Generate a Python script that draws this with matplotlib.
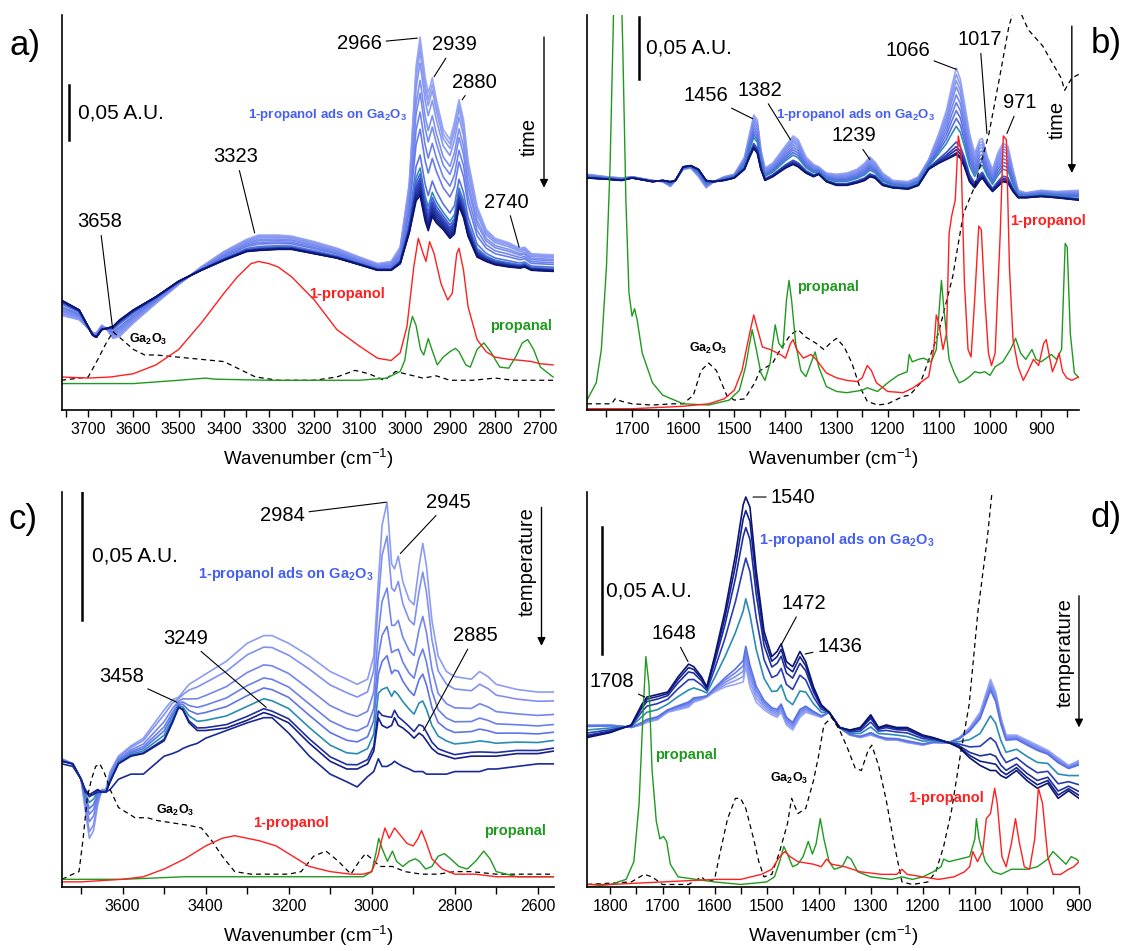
import numpy as np
import matplotlib.pyplot as plt

plt.rcParams['font.family'] = ['Liberation Sans', 'DejaVu Sans']
plt.rcParams['mathtext.fontset'] = 'custom'
plt.rcParams['mathtext.rm'] = 'Liberation Sans'
plt.rcParams['mathtext.it'] = 'Liberation Sans:italic'
plt.rcParams['mathtext.bf'] = 'Liberation Sans:bold'

# ---------------- panel a: 1-propanol on Ga2O3, OH/CH region, time series ----------------
a_wn = [3760, 3720, 3690, 3682, 3670, 3660, 3645, 3630, 3600, 3550, 3500, 3450, 3400, 3350, 3323,
        3280, 3250, 3200, 3150, 3100, 3060, 3030, 3010, 2990, 2975, 2966, 2955, 2948, 2939, 2930,
        2915, 2900, 2890, 2880, 2870, 2860, 2840, 2820, 2800, 2770, 2745, 2735, 2720, 2672]
a_first = [0.086, 0.082, 0.070, 0.070, 0.077, 0.074, 0.065, 0.067, 0.079, 0.097, 0.114, 0.130, 0.144, 0.155, 0.159,
           0.159, 0.158, 0.153, 0.147, 0.139, 0.133, 0.135, 0.148, 0.206, 0.312, 0.339, 0.303, 0.288, 0.302, 0.282,
           0.255, 0.246, 0.262, 0.282, 0.264, 0.227, 0.185, 0.164, 0.156, 0.152, 0.147, 0.148, 0.142, 0.141]
a_last = [0.100, 0.091, 0.068, 0.066, 0.073, 0.074, 0.076, 0.082, 0.091, 0.103, 0.117, 0.127, 0.136, 0.144, 0.145,
          0.146, 0.146, 0.142, 0.138, 0.132, 0.127, 0.127, 0.133, 0.161, 0.190, 0.195, 0.172, 0.163, 0.176, 0.170,
          0.164, 0.156, 0.160, 0.185, 0.175, 0.158, 0.139, 0.135, 0.132, 0.130, 0.129, 0.130, 0.127, 0.126]
a_weights = [1.0, 0.955, 0.909, 0.836, 0.727, 0.645, 0.527, 0.418, 0.255, 0.173, 0.136, 0.109,
             0.091, 0.073, 0.055, 0.036, 0.018, 0.0]
a_colors = ['#9aa8f4', '#93a2f3', '#8c9cf2', '#8596f1', '#7e90f0', '#778aef', '#6f83ed', '#667bea', '#5b71e6',
            '#2f8cb8', '#4a60dc', '#3d52cf', '#3346c0', '#2a3bb0', '#2232a0', '#1a2890', '#131f82', '#0c1472']

a_red_wn = [3760, 3700, 3650, 3600, 3550, 3500, 3450, 3400, 3370, 3340, 3323, 3300, 3280, 3250, 3200, 3150,
            3100, 3060, 3030, 3010, 2995, 2980, 2970, 2960, 2953, 2945, 2935, 2920, 2905, 2895, 2885, 2880,
            2870, 2860, 2840, 2820, 2800, 2770, 2740, 2720, 2700, 2672]
a_red = [0.030, 0.029, 0.030, 0.033, 0.041, 0.055, 0.079, 0.106, 0.121, 0.133, 0.135, 0.133, 0.130, 0.121, 0.100, 0.073,
         0.058, 0.047, 0.045, 0.052, 0.076, 0.130, 0.156, 0.143, 0.135, 0.153, 0.142, 0.115, 0.100, 0.106, 0.142, 0.147,
         0.127, 0.094, 0.064, 0.053, 0.048, 0.046, 0.045, 0.044, 0.042, 0.041]
a_green_wn = [3760, 3600, 3500, 3440, 3420, 3300, 3100, 3040, 3010, 3000, 2990, 2983, 2975, 2965, 2958, 2948, 2940,
              2928, 2915, 2900, 2888, 2880, 2865, 2855, 2840, 2825, 2810, 2790, 2770, 2755, 2740, 2728, 2715, 2700, 2672]
a_green = [0.024, 0.024, 0.027, 0.029, 0.028, 0.027, 0.027, 0.029, 0.035, 0.045, 0.073, 0.085, 0.077, 0.055, 0.050, 0.065,
           0.055, 0.041, 0.048, 0.053, 0.056, 0.053, 0.041, 0.039, 0.055, 0.061, 0.053, 0.039, 0.038, 0.048, 0.061, 0.064,
           0.055, 0.039, 0.030]
a_ga_wn = [3760, 3720, 3700, 3680, 3660, 3645, 3625, 3600, 3575, 3550, 3500, 3450, 3400, 3370, 3330, 3280, 3200, 3150,
           3110, 3080, 3045, 3020, 2990, 2960, 2930, 2900, 2850, 2800, 2760, 2672]
a_ga = [0.027, 0.029, 0.030, 0.045, 0.061, 0.071, 0.064, 0.055, 0.050, 0.050, 0.048, 0.046, 0.044, 0.038, 0.030, 0.027,
        0.027, 0.030, 0.036, 0.033, 0.027, 0.035, 0.032, 0.029, 0.031, 0.027, 0.027, 0.029, 0.027, 0.027]

# ---------------- panel b: fingerprint region, time series ----------------
b_wn = [1788, 1750, 1720, 1700, 1660, 1640, 1625, 1615, 1600, 1585, 1570, 1555, 1540, 1520, 1500, 1480, 1470, 1462,
        1455, 1448, 1440, 1425, 1400, 1385, 1375, 1360, 1345, 1335, 1320, 1300, 1280, 1260, 1245, 1235, 1225, 1210,
        1190, 1160, 1140, 1120, 1100, 1085, 1075, 1066, 1058, 1050, 1040, 1030, 1020, 1015, 1005, 995, 985, 975,
        965, 955, 945, 930, 900, 870, 826]
b_first = [0.191, 0.189, 0.188, 0.189, 0.186, 0.185, 0.181, 0.186, 0.195, 0.196, 0.189, 0.180, 0.185, 0.189, 0.191,
           0.205, 0.224, 0.239, 0.235, 0.211, 0.196, 0.200, 0.214, 0.222, 0.219, 0.205, 0.199, 0.197, 0.192, 0.191,
           0.192, 0.195, 0.200, 0.205, 0.201, 0.192, 0.186, 0.185, 0.189, 0.203, 0.224, 0.243, 0.262, 0.277, 0.268,
           0.249, 0.224, 0.208, 0.219, 0.220, 0.205, 0.195, 0.208, 0.216, 0.214, 0.195, 0.178, 0.176, 0.178, 0.177,
           0.178]
b_last = [0.188, 0.187, 0.186, 0.188, 0.185, 0.186, 0.185, 0.186, 0.197, 0.198, 0.195, 0.186, 0.185, 0.186, 0.188,
          0.195, 0.205, 0.212, 0.208, 0.195, 0.186, 0.189, 0.196, 0.199, 0.197, 0.192, 0.189, 0.191, 0.185, 0.182,
          0.182, 0.184, 0.186, 0.189, 0.188, 0.182, 0.180, 0.179, 0.182, 0.195, 0.200, 0.203, 0.205, 0.207, 0.204,
          0.197, 0.185, 0.180, 0.186, 0.188, 0.182, 0.177, 0.181, 0.185, 0.184, 0.177, 0.172, 0.172, 0.173, 0.172,
          0.170]
b_weights = [1.0, 0.927, 0.855, 0.782, 0.691, 0.6, 0.509, 0.418, 0.327, 0.145, 0.091, 0.055, 0.018, 0.0]
b_colors = ['#9aa8f4', '#8e9ef2', '#8596f1', '#7c8ef0', '#7287ee', '#687eeb', '#5e75e8', '#546ce4',
            '#2f8cb8', '#3a50cc', '#2c3eb4', '#22329f', '#17238a', '#0c1472']

b_red_wn = [1788, 1700, 1600, 1550, 1520, 1500, 1485, 1470, 1462, 1455, 1445, 1430, 1410, 1400, 1390, 1385, 1378,
            1365, 1350, 1340, 1320, 1300, 1280, 1260, 1250, 1240, 1232, 1222, 1200, 1170, 1150, 1130, 1120, 1110,
            1105, 1100, 1092, 1085, 1080, 1075, 1068, 1062, 1057, 1050, 1043, 1037, 1030, 1022, 1017, 1010, 1003,
            997, 990, 980, 974, 968, 962, 955, 945, 935, 925, 915, 905, 895, 890, 885, 878, 870, 865, 858, 850,
            840, 826]
b_red = [0.001, 0.001, 0.003, 0.005, 0.009, 0.016, 0.032, 0.062, 0.077, 0.066, 0.051, 0.049, 0.045, 0.042, 0.054,
         0.057, 0.049, 0.042, 0.045, 0.041, 0.030, 0.026, 0.024, 0.023, 0.026, 0.036, 0.032, 0.022, 0.015, 0.014,
         0.018, 0.024, 0.027, 0.049, 0.077, 0.070, 0.049, 0.062, 0.143, 0.157, 0.170, 0.222, 0.211, 0.103, 0.049,
         0.043, 0.089, 0.149, 0.146, 0.089, 0.046, 0.036, 0.046, 0.143, 0.222, 0.219, 0.116, 0.057, 0.035, 0.024,
         0.032, 0.041, 0.036, 0.054, 0.057, 0.046, 0.031, 0.039, 0.046, 0.031, 0.026, 0.024, 0.027]
b_green_wn = [1788, 1770, 1760, 1750, 1743, 1737, 1732, 1725, 1718, 1712, 1706, 1700, 1695, 1690, 1680, 1660, 1640,
              1600, 1550, 1510, 1490, 1478, 1470, 1465, 1458, 1448, 1440, 1430, 1420, 1413, 1405, 1398, 1393, 1388,
              1380, 1370, 1360, 1350, 1342, 1335, 1320, 1300, 1280, 1250, 1240, 1220, 1200, 1180, 1162, 1158, 1152,
              1140, 1130, 1115, 1105, 1098, 1095, 1090, 1080, 1070, 1060, 1050, 1040, 1030, 1020, 1010, 1000, 990,
              975, 960, 950, 940, 930, 918, 910, 900, 880, 870, 860, 853, 849, 843, 835, 826]
b_green = [0.008, 0.022, 0.049, 0.116, 0.197, 0.305, 0.41, 0.41, 0.292, 0.170, 0.095, 0.076, 0.082, 0.073, 0.046,
           0.022, 0.012, 0.005, 0.004, 0.008, 0.016, 0.035, 0.054, 0.065, 0.051, 0.030, 0.024, 0.038, 0.069, 0.054,
           0.050, 0.089, 0.105, 0.089, 0.054, 0.032, 0.027, 0.038, 0.047, 0.035, 0.019, 0.015, 0.014, 0.016, 0.018,
           0.015, 0.022, 0.028, 0.031, 0.045, 0.039, 0.041, 0.042, 0.039, 0.049, 0.089, 0.105, 0.081, 0.041, 0.030,
           0.022, 0.024, 0.027, 0.031, 0.030, 0.031, 0.028, 0.035, 0.039, 0.049, 0.058, 0.046, 0.041, 0.049, 0.041,
           0.039, 0.045, 0.041, 0.049, 0.135, 0.132, 0.062, 0.030, 0.026]
b_ga_wn = [1788, 1740, 1733, 1720, 1700, 1660, 1620, 1600, 1580, 1565, 1550, 1535, 1515, 1500, 1480, 1460, 1450,
           1440, 1425, 1410, 1390, 1375, 1360, 1340, 1325, 1310, 1300, 1285, 1270, 1255, 1240, 1220, 1200, 1170,
           1157, 1136, 1101, 1073, 1052, 1030, 1002, 981, 963, 949, 925, 897, 882, 861, 854, 840, 826]
b_ga = [0.005, 0.005, 0.009, 0.007, 0.005, 0.004, 0.005, 0.005, 0.012, 0.032, 0.038, 0.032, 0.012, 0.008, 0.009,
        0.022, 0.032, 0.034, 0.038, 0.049, 0.061, 0.065, 0.059, 0.054, 0.049, 0.055, 0.058, 0.051, 0.038, 0.019,
        0.007, 0.004, 0.005, 0.011, 0.012, 0.022, 0.062, 0.108, 0.159, 0.181, 0.224, 0.270, 0.311, 0.33, 0.308,
        0.295, 0.284, 0.269, 0.259, 0.269, 0.272]

# ---------------- panel c: OH/CH region, temperature series ----------------
c_wn = [3746, 3720, 3700, 3690, 3680, 3670, 3660, 3650, 3640, 3630, 3610, 3580, 3550, 3500, 3480, 3465, 3455, 3440,
        3420, 3400, 3350, 3300, 3260, 3240, 3200, 3150, 3100, 3060, 3035, 3010, 2995, 2984, 2975, 2963, 2952, 2945,
        2936, 2925, 2910, 2898, 2886, 2877, 2868, 2855, 2840, 2820, 2800, 2760, 2740, 2720, 2700, 2650, 2600, 2561]
c_low_t = [0.050, 0.048, 0.042, 0.030, 0.019, 0.022, 0.032, 0.038, 0.038, 0.045, 0.051, 0.055, 0.058, 0.069, 0.073,
           0.074, 0.076, 0.079, 0.081, 0.083, 0.088, 0.095, 0.098, 0.098, 0.095, 0.090, 0.084, 0.081, 0.079, 0.081,
           0.090, 0.119, 0.141, 0.150, 0.126, 0.124, 0.129, 0.119, 0.112, 0.110, 0.125, 0.134, 0.125, 0.104, 0.090,
           0.084, 0.082, 0.081, 0.084, 0.082, 0.079, 0.077, 0.076, 0.076]
c_high_t = [0.049, 0.048, 0.042, 0.038, 0.036, 0.037, 0.038, 0.037, 0.037, 0.041, 0.048, 0.051, 0.052, 0.057, 0.064,
            0.070, 0.069, 0.064, 0.061, 0.061, 0.062, 0.065, 0.068, 0.067, 0.064, 0.056, 0.049, 0.046, 0.046, 0.048,
            0.053, 0.066, 0.063, 0.062, 0.063, 0.066, 0.063, 0.062, 0.060, 0.058, 0.060, 0.059, 0.057, 0.054, 0.052,
            0.051, 0.050, 0.051, 0.051, 0.051, 0.051, 0.052, 0.052, 0.053]
c_last = [0.048, 0.047, 0.042, 0.037, 0.036, 0.036, 0.037, 0.037, 0.037, 0.038, 0.042, 0.044, 0.044, 0.051, 0.052,
          0.053, 0.054, 0.055, 0.056, 0.058, 0.061, 0.064, 0.066, 0.066, 0.060, 0.051, 0.044, 0.041, 0.039, 0.043,
          0.045, 0.050, 0.047, 0.047, 0.048, 0.049, 0.048, 0.047, 0.046, 0.045, 0.045, 0.045, 0.044, 0.044, 0.044,
          0.044, 0.045, 0.045, 0.045, 0.046, 0.046, 0.047, 0.048, 0.048]
c_weights = [1.0, 0.85, 0.62, 0.45, 0.32, 0.18, 0.05, 0.0]
c_colors = ['#8c9cf2', '#8090f0', '#7286ee', '#6a7eec', '#5f74e8', '#2a8cb4', '#1f2fa0', '#14208a']
c_last_color = '#1a2a95'

c_red_wn = [3746, 3700, 3600, 3550, 3500, 3450, 3400, 3360, 3330, 3300, 3270, 3230, 3200, 3150, 3100, 3050, 3020,
            3000, 2985, 2975, 2968, 2958, 2945, 2935, 2915, 2900, 2888, 2880, 2870, 2855, 2830, 2800, 2750, 2700,
            2600, 2561]
c_red = [0.002, 0.002, 0.003, 0.004, 0.007, 0.011, 0.016, 0.019, 0.020, 0.019, 0.018, 0.016, 0.013, 0.008, 0.006,
         0.005, 0.005, 0.006, 0.012, 0.019, 0.023, 0.019, 0.023, 0.021, 0.017, 0.016, 0.019, 0.022, 0.018, 0.011,
         0.007, 0.005, 0.005, 0.004, 0.004, 0.004]
c_green_wn = [3746, 3600, 3450, 3430, 3400, 3100, 3020, 3000, 2990, 2983, 2975, 2962, 2950, 2940, 2925, 2910, 2895,
              2885, 2870, 2855, 2840, 2825, 2810, 2790, 2770, 2750, 2730, 2715, 2700, 2650, 2561]
c_green = [0.003, 0.003, 0.004, 0.004, 0.004, 0.004, 0.004, 0.006, 0.013, 0.019, 0.015, 0.010, 0.014, 0.010, 0.008,
           0.010, 0.011, 0.010, 0.007, 0.008, 0.012, 0.013, 0.011, 0.008, 0.007, 0.010, 0.014, 0.011, 0.006, 0.004,
           0.004]
c_ga_wn = [3746, 3720, 3705, 3695, 3685, 3675, 3665, 3655, 3645, 3630, 3610, 3590, 3570, 3540, 3520, 3480, 3440,
           3410, 3385, 3360, 3330, 3290, 3200, 3170, 3140, 3110, 3080, 3050, 3030, 3015, 3000, 2980, 2950, 2920,
           2880, 2840, 2800, 2760, 2700, 2600, 2561]
c_ga = [0.003, 0.005, 0.006, 0.019, 0.035, 0.042, 0.047, 0.048, 0.045, 0.038, 0.031, 0.029, 0.027, 0.027, 0.026,
        0.025, 0.024, 0.023, 0.018, 0.012, 0.006, 0.005, 0.005, 0.006, 0.012, 0.014, 0.010, 0.005, 0.010, 0.013,
        0.011, 0.008, 0.008, 0.006, 0.005, 0.005, 0.006, 0.006, 0.005, 0.005, 0.005]

# ---------------- panel d: fingerprint region, temperature series ----------------
d_wn = [1845, 1800, 1760, 1740, 1730, 1710, 1690, 1670, 1650, 1640, 1625, 1615, 1600, 1580, 1560, 1545, 1540, 1532,
        1520, 1505, 1490, 1480, 1472, 1462, 1450, 1436, 1425, 1410, 1395, 1380, 1360, 1340, 1320, 1300, 1285, 1270,
        1250, 1230, 1200, 1180, 1150, 1130, 1110, 1090, 1070, 1060, 1050, 1040, 1020, 1000, 980, 960, 940, 920, 900]
d_high_t = [0.059, 0.061, 0.064, 0.072, 0.075, 0.076, 0.077, 0.083, 0.088, 0.087, 0.083, 0.079, 0.091, 0.109, 0.131,
            0.151, 0.154, 0.150, 0.125, 0.101, 0.091, 0.093, 0.096, 0.089, 0.087, 0.093, 0.089, 0.079, 0.072, 0.069,
            0.063, 0.062, 0.063, 0.068, 0.063, 0.064, 0.063, 0.063, 0.060, 0.059, 0.057, 0.055, 0.051, 0.048, 0.046,
            0.046, 0.044, 0.043, 0.046, 0.042, 0.039, 0.041, 0.035, 0.038, 0.035]
d_low_t = [0.064, 0.064, 0.063, 0.064, 0.065, 0.066, 0.069, 0.070, 0.071, 0.073, 0.074, 0.075, 0.077, 0.079, 0.080,
           0.081, 0.087, 0.079, 0.073, 0.070, 0.068, 0.067, 0.069, 0.064, 0.062, 0.067, 0.069, 0.068, 0.067, 0.069,
           0.063, 0.060, 0.059, 0.060, 0.059, 0.058, 0.058, 0.057, 0.056, 0.057, 0.057, 0.059, 0.063, 0.069, 0.082,
           0.077, 0.067, 0.060, 0.060, 0.058, 0.056, 0.054, 0.051, 0.048, 0.050]
d_weights = [1.0, 0.97, 0.94, 0.91, 0.88, 0.6, 0.36, 0.18, 0.08, 0.0]
d_colors = ['#9aa8f4', '#8c9cf2', '#7d90ef', '#6c82ec', '#5a70e6', '#2a8cb4', '#2a3cb5', '#1f2fa0', '#14208a', '#0c1472']

d_red_wn = [1845, 1800, 1700, 1600, 1550, 1510, 1490, 1475, 1465, 1455, 1440, 1410, 1395, 1385, 1375, 1350, 1320,
            1280, 1250, 1240, 1230, 1200, 1170, 1140, 1120, 1110, 1104, 1095, 1085, 1078, 1070, 1062, 1057, 1048,
            1040, 1030, 1022, 1015, 1005, 995, 985, 978, 970, 960, 950, 935, 920, 910, 900]
d_red = [0.001, 0.001, 0.002, 0.003, 0.003, 0.005, 0.007, 0.012, 0.014, 0.012, 0.010, 0.009, 0.008, 0.011, 0.009,
         0.008, 0.006, 0.005, 0.005, 0.007, 0.005, 0.004, 0.003, 0.004, 0.006, 0.008, 0.014, 0.010, 0.014, 0.027,
         0.029, 0.039, 0.033, 0.012, 0.008, 0.017, 0.027, 0.018, 0.008, 0.007, 0.019, 0.039, 0.033, 0.012, 0.005,
         0.005, 0.007, 0.008, 0.010]
d_green_wn = [1845, 1800, 1770, 1755, 1745, 1738, 1732, 1726, 1720, 1712, 1705, 1698, 1692, 1685, 1670, 1600, 1550,
              1500, 1485, 1475, 1467, 1460, 1450, 1440, 1430, 1420, 1412, 1405, 1397, 1390, 1380, 1370, 1355, 1345,
              1338, 1325, 1300, 1260, 1240, 1220, 1200, 1180, 1165, 1160, 1150, 1130, 1110, 1100, 1097, 1092, 1080,
              1065, 1050, 1030, 1000, 980, 960, 950, 940, 925, 915, 905, 900]
d_green = [0.000, 0.001, 0.003, 0.010, 0.033, 0.066, 0.091, 0.080, 0.046, 0.026, 0.019, 0.020, 0.018, 0.009, 0.004,
           0.002, 0.001, 0.002, 0.004, 0.010, 0.016, 0.013, 0.008, 0.009, 0.012, 0.018, 0.013, 0.017, 0.027, 0.019,
           0.010, 0.007, 0.008, 0.012, 0.011, 0.006, 0.004, 0.003, 0.004, 0.003, 0.004, 0.006, 0.008, 0.011, 0.010,
           0.011, 0.012, 0.019, 0.027, 0.019, 0.010, 0.006, 0.005, 0.007, 0.007, 0.008, 0.011, 0.014, 0.012, 0.009,
           0.012, 0.011, 0.010]
d_ga_wn = [1845, 1760, 1735, 1720, 1700, 1650, 1625, 1615, 1600, 1590, 1575, 1560, 1550, 1540, 1525, 1515, 1505,
           1490, 1475, 1460, 1452, 1440, 1425, 1410, 1400, 1390, 1375, 1360, 1345, 1330, 1318, 1305, 1298, 1285,
           1270, 1255, 1240, 1220, 1190, 1175, 1160, 1145, 1128, 1111, 1094, 1076, 1065, 1058]
d_ga = [0.001, 0.002, 0.005, 0.004, 0.001, 0.001, 0.004, 0.002, 0.003, 0.013, 0.027, 0.035, 0.035, 0.031, 0.019,
        0.010, 0.004, 0.005, 0.014, 0.025, 0.035, 0.029, 0.031, 0.042, 0.052, 0.064, 0.067, 0.062, 0.055, 0.047,
        0.046, 0.054, 0.056, 0.048, 0.034, 0.017, 0.002, 0.001, 0.002, 0.006, 0.016, 0.030, 0.052, 0.072, 0.109,
        0.138, 0.160, 0.175]

# peak labels: text, text position (wn, A.U.), band position (wn, A.U.)
a_peaks = [('2966', 3100, 0.333, 2972, 0.338), ('2939', 2890, 0.332, 2935, 0.303),
           ('2880', 2845, 0.298, 2873, 0.282), ('2740', 2775, 0.189, 2747, 0.148),
           ('3323', 3373, 0.230, 3332, 0.161), ('3658', 3675, 0.171, 3646, 0.074)]
b_peaks = [('1456', 1556, 0.255, 1464, 0.236), ('1382', 1450, 0.259, 1390, 0.219),
           ('1239', 1267, 0.222, 1235, 0.203), ('1066', 1161, 0.291, 1066, 0.276),
           ('1017', 1020, 0.300, 1006, 0.224), ('971', 942, 0.249, 967, 0.224)]
c_peaks = [('2984', 3215, 0.145, 2965, 0.150), ('2945', 2815, 0.150, 2931, 0.130),
           ('2885', 2751, 0.098, 2875, 0.061), ('3249', 3448, 0.097, 3254, 0.070),
           ('3458', 3603, 0.082, 3469, 0.072)]
d_peaks = [('1540', 1450, 0.154, 1526, 0.154), ('1472', 1429, 0.112, 1471, 0.096),
           ('1436', 1360, 0.095, 1426, 0.092), ('1648', 1679, 0.100, 1651, 0.089),
           ('1708', 1797, 0.081, 1734, 0.075)]

RED = '#ff1f1f'
GREEN = '#1f9a1f'
BLUE_TXT = '#4560f0'
GA = r'Ga$_\mathbf{2}$O$_\mathbf{3}$'


def setup(ax, xlim, ylim, major, minor):
    ax.set_xlim(*xlim)
    ax.set_ylim(*ylim)
    ax.spines['top'].set_visible(False)
    ax.spines['right'].set_visible(False)
    ax.spines['left'].set_linewidth(1.2)
    ax.spines['bottom'].set_linewidth(1.2)
    ax.set_yticks([])
    ax.set_xticks(major)
    ax.set_xticks(minor, minor=True)
    ax.tick_params(axis='x', which='both', direction='out', length=5, width=1, labelsize=11.5, pad=4)
    ax.set_xlabel('Wavenumber (cm$^{-1}$)', fontsize=13.5, labelpad=7)


def family(ax, wn, first, last, weights, colors):
    first = np.array(first)
    last = np.array(last)
    for w, c in zip(weights, colors):
        ax.plot(wn, last + w * (first - last), color=c, lw=1.2)


def references(ax, ga, green, red):
    ax.plot(ga[0], ga[1], color='black', lw=0.9, ls=(0, (4, 3)))
    ax.plot(green[0], green[1], color=GREEN, lw=1.0)
    ax.plot(red[0], red[1], color=RED, lw=1.0)


def peaks(ax, plist):
    for txt, tx, ty, px, py in plist:
        ax.annotate(txt, xy=(px, py), xytext=(tx, ty), fontsize=14.5, ha='center', va='center',
                    arrowprops=dict(arrowstyle='-', lw=0.8, color='black', shrinkA=1, shrinkB=0))


def scalebar(ax, x, y0, tx):
    ax.plot([x, x], [y0, y0 + 0.05], color='black', lw=1.8)
    ax.text(tx, y0 + 0.025, '0,05 A.U.', fontsize=15, ha='left', va='center')


def arrow(ax, x, y0, y1, label, lx, ly):
    ax.annotate('', xy=(x, y1), xytext=(x, y0),
                arrowprops=dict(arrowstyle='-|>', lw=1.0, color='black', mutation_scale=12,
                                shrinkA=0, shrinkB=0))
    ax.text(lx, ly, label, rotation=90, fontsize=14.5, ha='center', va='center')


fig = plt.figure(figsize=(11.25, 9.51), dpi=100)
ax_a = fig.add_axes([0.0551, 0.5689, 0.4373, 0.4153])
ax_b = fig.add_axes([0.5218, 0.5689, 0.4373, 0.4153])
ax_c = fig.add_axes([0.0551, 0.0673, 0.4373, 0.4154])
ax_d = fig.add_axes([0.5218, 0.0673, 0.4373, 0.4154])

# a)
setup(ax_a, (3758, 2670), (0, 0.359), range(2700, 3701, 100), range(2700, 3751, 50))
family(ax_a, a_wn, a_first, a_last, a_weights, a_colors)
references(ax_a, (a_ga_wn, a_ga), (a_green_wn, a_green), (a_red_wn, a_red))
peaks(ax_a, a_peaks)
scalebar(ax_a, 3742, 0.245, 3722)
arrow(ax_a, 2692, 0.339, 0.202, 'time', 2724, 0.248)
ax_a.text(3171, 0.268, '1-propanol ads on ' + GA, color=BLUE_TXT, fontsize=9.5, fontweight='bold', ha='center', va='center')
ax_a.text(3128, 0.105, '1-propanol', color=RED, fontsize=10.5, fontweight='bold', ha='center', va='center')
ax_a.text(2743, 0.076, 'propanal', color=GREEN, fontsize=10.5, fontweight='bold', ha='center', va='center')
ax_a.text(3567, 0.064, GA, color='black', fontsize=9, fontweight='bold', ha='center', va='center')

# b)
setup(ax_b, (1788, 826), (0, 0.320), range(900, 1701, 100), range(850, 1751, 50))
family(ax_b, b_wn, b_first, b_last, b_weights, b_colors)
references(ax_b, (b_ga_wn, b_ga), (b_green_wn, b_green), (b_red_wn, b_red))
peaks(ax_b, b_peaks)
scalebar(ax_b, 1686, 0.268, 1672)
arrow(ax_b, 840, 0.311, 0.192, 'time', 868, 0.235)
ax_b.text(1263, 0.239, '1-propanol ads on ' + GA, color=BLUE_TXT, fontsize=9.5, fontweight='bold', ha='center', va='center')
ax_b.text(886, 0.153, '1-propanol', color=RED, fontsize=10.5, fontweight='bold', ha='center', va='center')
ax_b.text(1316, 0.100, 'propanal', color=GREEN, fontsize=10.5, fontweight='bold', ha='center', va='center')
ax_b.text(1552, 0.050, GA, color='black', fontsize=9, fontweight='bold', ha='center', va='center')

# c)
setup(ax_c, (3746, 2561), (0, 0.154), range(2600, 3601, 200), range(2600, 3701, 100))
family(ax_c, c_wn, c_low_t, c_high_t, c_weights, c_colors)
ax_c.plot(c_wn, c_last, color=c_last_color, lw=1.2)
references(ax_c, (c_ga_wn, c_ga), (c_green_wn, c_green), (c_red_wn, c_red))
peaks(ax_c, c_peaks)
scalebar(ax_c, 3697, 0.104, 3673)
arrow(ax_c, 2591, 0.148, 0.094, 'temperature', 2626, 0.127)
ax_c.text(3207, 0.122, '1-propanol ads on ' + GA, color=BLUE_TXT, fontsize=10.5, fontweight='bold', ha='center', va='center')
ax_c.text(3194, 0.025, '1-propanol', color=RED, fontsize=10.5, fontweight='bold', ha='center', va='center')
ax_c.text(2656, 0.022, 'propanal', color=GREEN, fontsize=10.5, fontweight='bold', ha='center', va='center')
ax_c.text(3473, 0.030, GA, color='black', fontsize=9, fontweight='bold', ha='center', va='center')

# d)
setup(ax_d, (1845, 900), (0, 0.156), range(900, 1801, 100), range(900, 1801, 50))
family(ax_d, d_wn, d_low_t, d_high_t, d_weights, d_colors)
references(ax_d, (d_ga_wn, d_ga), (d_green_wn, d_green), (d_red_wn, d_red))
peaks(ax_d, d_peaks)
scalebar(ax_d, 1817, 0.092, 1808)
arrow(ax_d, 900, 0.115, 0.063, 'temperature', 927, 0.0925)
ax_d.text(1346, 0.137, '1-propanol ads on ' + GA, color=BLUE_TXT, fontsize=10.5, fontweight='bold', ha='center', va='center')
ax_d.text(1156, 0.035, '1-propanol', color=RED, fontsize=10.5, fontweight='bold', ha='center', va='center')
ax_d.text(1655, 0.052, 'propanal', color=GREEN, fontsize=10.5, fontweight='bold', ha='center', va='center')
ax_d.text(1457, 0.043, GA, color='black', fontsize=9, fontweight='bold', ha='center', va='center')

for lab, x, y in [('a)', 25, 45), ('b)', 1106, 43), ('c)', 23, 520), ('d)', 1106, 518)]:
    fig.text(x / 1125, 1 - y / 951, lab, fontsize=25, ha='center', va='center')

fig.savefig('out.png', dpi=100)
